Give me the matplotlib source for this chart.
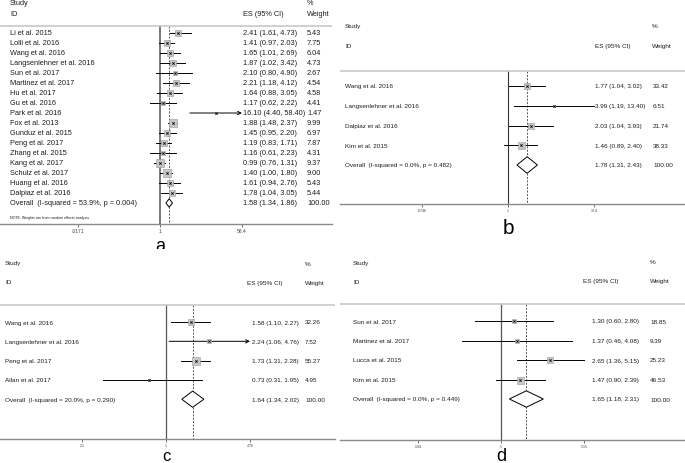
import numpy as np
import matplotlib.pyplot as plt
import matplotlib.transforms as mtransforms
from matplotlib.patches import Polygon
from matplotlib.ticker import NullLocator

plt.rcParams["font.family"] = ["Liberation Sans", "DejaVu Sans"]

W, H = 685, 464

# ---- panel a
a_studies = ["Li et al. 2015", "Lolli et al. 2016", "Wang et al. 2016", "Langsenlehner et al. 2016",
             "Sun et al. 2017", "Martinez et al. 2017", "Hu et al. 2017", "Gu et al. 2016",
             "Park et al. 2016", "Fox et al. 2013", "Gunduz et al. 2015", "Peng et al. 2017",
             "Zhang et al. 2015", "Kang et al. 2017", "Schulz et al. 2017", "Huang et al. 2016",
             "Dalpiaz et al. 2016"]
a_es = [2.41, 1.41, 1.65, 1.87, 2.10, 2.21, 1.64, 1.17, 16.10, 1.88, 1.45, 1.19, 1.16, 0.99, 1.40, 1.61, 1.78]
a_lo = [1.61, 0.97, 1.01, 1.02, 0.80, 1.18, 0.88, 0.62, 4.40, 1.48, 0.95, 0.83, 0.61, 0.76, 1.00, 0.94, 1.04]
a_hi = [4.73, 2.03, 2.69, 3.42, 4.90, 4.12, 3.05, 2.22, 58.40, 2.37, 2.20, 1.71, 2.23, 1.31, 1.80, 2.76, 3.05]
a_w = [5.43, 7.75, 6.04, 4.73, 2.67, 4.54, 4.58, 4.41, 1.47, 9.99, 6.97, 7.87, 4.31, 9.37, 9.00, 5.43, 5.44]
a_overall = [1.58, 1.34, 1.86]
a_het = "Overall  (I-squared = 53.9%, p = 0.004)"
a_ticks = [0.0171, 1, 58.4]
a_ticklabels = [".0171", "1", "58.4"]
a_arrows = [8]

# ---- panel b
b_studies = ["Wang et al. 2016", "Langsenlehner et al. 2016", "Dalpiaz et al. 2016", "Kim et al. 2015"]
b_es = [1.77, 3.99, 2.03, 1.46]
b_lo = [1.04, 1.19, 1.04, 0.89]
b_hi = [3.02, 13.40, 3.93, 2.40]
b_w = [33.42, 6.51, 21.74, 38.33]
b_overall = [1.78, 1.31, 2.43]
b_het = "Overall  (I-squared = 0.0%, p = 0.482)"
b_ticks = [0.0746, 1, 13.4]
b_ticklabels = [".0746", "1", "13.4"]
b_arrows = []

# ---- panel c
c_studies = ["Wang et al. 2016", "Langsenlehner et al. 2016", "Peng et al. 2017", "Allan et al. 2017"]
c_es = [1.58, 2.24, 1.73, 0.73]
c_lo = [1.10, 1.06, 1.31, 0.31]
c_hi = [2.27, 4.76, 2.28, 1.95]
c_w = [32.26, 7.52, 55.27, 4.95]
c_overall = [1.64, 1.34, 2.02]
c_het = "Overall  (I-squared = 20.0%, p = 0.290)"
c_ticks = [0.21, 1, 4.76]
c_ticklabels = [".21", "1", "4.76"]
c_arrows = [1]

# ---- panel d
d_studies = ["Sun et al. 2017", "Martinez et al. 2017", "Lucca et al. 2015", "Kim et al. 2015"]
d_es = [1.30, 1.37, 2.65, 1.47]
d_lo = [0.60, 0.46, 1.36, 0.90]
d_hi = [2.80, 4.08, 5.15, 2.39]
d_w = [18.85, 9.39, 25.23, 46.53]
d_overall = [1.65, 1.18, 2.31]
d_het = "Overall  (I-squared = 0.0%, p = 0.449)"
d_ticks = [0.194, 1, 5.15]
d_ticklabels = [".194", "1", "5.15"]
d_arrows = []

fig = plt.figure(figsize=(W / 100, H / 100), dpi=100)


def forest(box, x1, dec, row0, rowh, studies, es, lo, hi, w, overall, het, ticks, ticklabels,
           arrows, letter, lay, fs=4.6, tfs=2.6, lfs=13, boxk=7.0, nullc="#555555", nulllw=0.9,
           note=None):
    left, top, right, bottom = box
    ax = fig.add_axes([left / W, 1 - bottom / H, (right - left) / W, (bottom - top) / H])
    ax.set_xscale("log")
    ax.set_xlim(10 ** ((left - x1) / dec), 10 ** ((right - x1) / dec))
    ylo, yhi = (bottom - row0) / rowh, (top - row0) / rowh
    ax.set_ylim(ylo, yhi)

    def ry(py):
        return (py - row0) / rowh

    def fx(px):
        return (px - left) / (right - left)

    tr = mtransforms.blended_transform_factory(ax.transAxes, ax.transData)
    tc = "#1e1e1e"

    # header
    ax.text(fx(lay["name_x"]), ry(lay["study_y"]), "Study", transform=tr, fontsize=fs, va="center", color=tc)
    ax.text(fx(lay["name_x"]), ry(lay["id_y"]), "ID", transform=tr, fontsize=fs, va="center", color=tc)
    ax.text(fx(lay["esh_x"]), ry(lay["id_y"]), "ES (95% CI)", transform=tr, fontsize=fs, va="center", color=tc)
    ax.text(fx(lay["pct_x"]), ry(lay["study_y"]), "%", transform=tr, fontsize=fs, va="center", color=tc)
    ax.text(fx(lay["pct_x"]), ry(lay["id_y"]), "Weight", transform=tr, fontsize=fs, va="center", color=tc)
    ax.axhline(ry(lay["line_y"]), color="#c8c8c8", lw=1.2)

    ytop = ry(lay["line_y"])
    ax.plot([1, 1], [ytop, ylo], color=nullc, lw=nulllw, zorder=1)
    ax.plot([overall[0], overall[0]], [ytop, ylo], color="#555555", lw=0.7,
            dashes=(2, 1.5), zorder=1)

    wmax = max(w)
    for i in range(len(studies)):
        if i in arrows:
            ax.annotate("", xy=(hi[i], i), xytext=(lo[i], i),
                        arrowprops=dict(arrowstyle="->", lw=0.7, color="black",
                                        shrinkA=0, shrinkB=0, mutation_scale=6))
        else:
            ax.plot([lo[i], hi[i]], [i, i], color="black", lw=0.7, zorder=2)
        side = boxk * np.sqrt(w[i] / wmax) * 0.72
        ax.scatter([es[i]], [i], marker="s", s=side ** 2, facecolor="#c6c6c6",
                   edgecolor="#9a9a9a", linewidths=0.4, zorder=3)
        ax.plot([es[i]], [i], marker="x", ms=1.6, mew=0.6, color="black", zorder=4)
        ax.text(fx(lay["name_x"]), i, studies[i], transform=tr, fontsize=fs, va="center", color=tc)
        ax.text(fx(lay["es_x"]), i, "%.2f (%.2f, %.2f)" % (es[i], lo[i], hi[i]),
                transform=tr, fontsize=fs, va="center", color=tc)
        ax.text(fx(lay["w_x"]), i, "%.2f" % w[i], transform=tr, fontsize=fs, va="center", color=tc)

    r = len(studies)
    hh = 0.42
    dia = Polygon([(overall[1], r), (overall[0], r - hh), (overall[2], r), (overall[0], r + hh)],
                  closed=True, facecolor="white", edgecolor="black", lw=0.7, zorder=3)
    ax.add_patch(dia)
    ax.text(fx(lay["name_x"]), r, het, transform=tr, fontsize=fs, va="center", color=tc)
    ax.text(fx(lay["es_x"]), r, "%.2f (%.2f, %.2f)" % tuple(overall), transform=tr,
            fontsize=fs, va="center", color=tc)
    ax.text(fx(lay["w_x"]), r, "100.00", transform=tr, fontsize=fs, va="center", color=tc)

    if note:
        ax.text(fx(lay["name_x"]), ry(lay["note_y"]), note, transform=tr, fontsize=2.6,
                va="center", color=tc)

    for s in ["left", "right", "top"]:
        ax.spines[s].set_visible(False)
    ax.spines["bottom"].set_color("#8a8a8a")
    ax.spines["bottom"].set_linewidth(1.0)
    ax.set_yticks([])
    ax.set_xticks(ticks)
    ax.set_xticklabels(ticklabels, fontsize=tfs, color="#444444")
    ax.xaxis.set_minor_locator(NullLocator())
    ax.tick_params(axis="x", length=2.0, width=0.6, color="#555555", pad=0.6)

    ax.text(1, ry(lay["letter_y"]), letter, fontsize=lfs, ha="center", va="center",
            color="black", clip_on=False)
    return ax


forest((0, 0, 332, 225), 160, 46.4, 34, 10, a_studies, a_es, a_lo, a_hi, a_w, a_overall, a_het,
       a_ticks, a_ticklabels, a_arrows, "a",
       dict(name_x=10, es_x=243, w_x=307, esh_x=243, pct_x=307, study_y=4, id_y=14.5,
            line_y=27, letter_y=247, note_y=218),
       fs=5.3, tfs=3.6, lfs=13, boxk=7.5, nullc="#777777", nulllw=1.4,
       note="NOTE: Weights are from random effects analysis")

forest((340, 15, 685, 205), 508, 76.3, 87, 19.75, b_studies, b_es, b_lo, b_hi, b_w, b_overall, b_het,
       b_ticks, b_ticklabels, b_arrows, "b",
       dict(name_x=345, es_x=595, w_x=653, esh_x=595, pct_x=652, study_y=27, id_y=47,
            line_y=72, letter_y=229),
       lfs=15, boxk=7.0, nullc="#333333", nulllw=0.8)

forest((0, 250, 335, 440), 166, 124, 323, 19.3, c_studies, c_es, c_lo, c_hi, c_w, c_overall, c_het,
       c_ticks, c_ticklabels, c_arrows, "c",
       dict(name_x=5, es_x=252, w_x=305, esh_x=247, pct_x=305, study_y=264, id_y=283,
            line_y=306, letter_y=456.5),
       lfs=12, boxk=8.5)

forest((340, 250, 685, 441), 501, 116.5, 322, 19.5, d_studies, d_es, d_lo, d_hi, d_w, d_overall, d_het,
       d_ticks, d_ticklabels, d_arrows, "d",
       dict(name_x=353, es_x=592, w_x=650, esh_x=583, pct_x=650, study_y=263, id_y=282,
            line_y=305, letter_y=456.5),
       lfs=13, boxk=7.0)

fig.savefig("out.png", dpi=100)
